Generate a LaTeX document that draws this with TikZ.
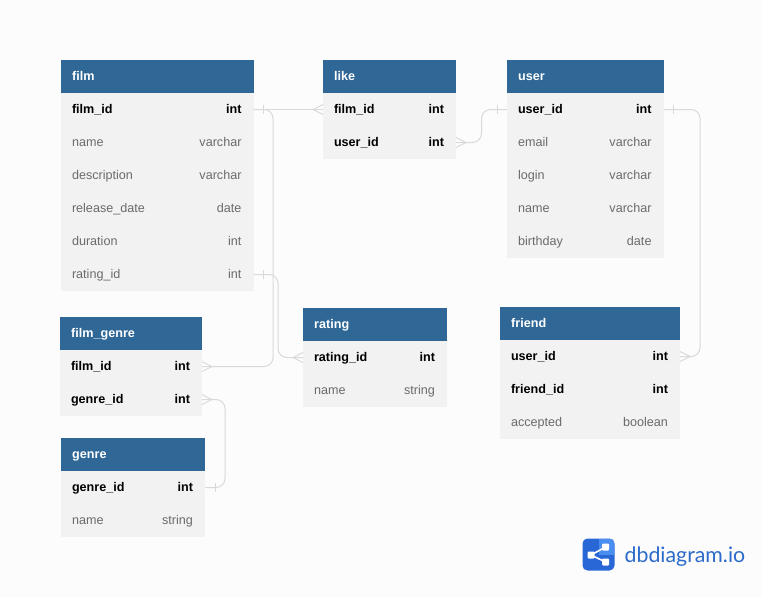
\documentclass[tikz,border=0pt]{standalone}
\usepackage{fontspec}
\setmainfont{Liberation Sans}
\newfontfamily\logofont{Lato}
\usetikzlibrary{calc}
\definecolor{pagebg}{HTML}{FCFCFC}
\definecolor{headblue}{HTML}{2F6797}
\definecolor{rowbg}{HTML}{F2F2F2}
\definecolor{mutedtxt}{HTML}{6B6B6B}
\definecolor{connline}{HTML}{D9D9D9}
\definecolor{logoblue}{HTML}{2A67D6}
\definecolor{logolight}{HTML}{4A8DF0}
\definecolor{logotxt}{HTML}{2C6BCB}
\tikzset{
  head/.style={fill=headblue,inner sep=0pt,outer sep=0pt,minimum height=33pt,anchor=north west},
  rowbox/.style={fill=rowbg,inner sep=0pt,outer sep=0pt,minimum height=33pt,anchor=north west},
  keytxt/.style={font=\fontsize{12.6}{14}\selectfont\bfseries,text=black,inner sep=0pt,outer sep=0pt},
  plaintxt/.style={font=\fontsize{12.6}{14}\selectfont,text=mutedtxt,inner sep=0pt,outer sep=0pt},
  conn/.style={draw=connline,line width=1pt,rounded corners=9pt},
  tipline/.style={draw=connline,line width=0.9pt},
}
% table header: name, x, y, width, title
\newcommand{\erhead}[5]{%
  \def\erw{#4}%
  \node[head,minimum width=#4pt] (#1) at (#2,#3) {};
  \node[font=\fontsize{12.6}{14}\selectfont\bfseries,text=white,inner sep=0pt,anchor=mid west] (#1-title) at ([xshift=11pt,yshift=-1.1pt]#1.west) {#5};
}
% row: name, previous node, left text, right text, text style
\newcommand{\errow}[5]{%
  \node[rowbox,minimum width=\erw pt] (#1) at (#2.south west) {};
  \node[#5,anchor=mid west] (#1-l) at ([xshift=11pt,yshift=-1.5pt]#1.west) {#3};
  \node[#5,anchor=mid east] (#1-r) at ([xshift=-12pt,yshift=-1.5pt]#1.east) {#4};
}
% one-bar tip at an anchor; direction +1 right, -1 left
\newcommand{\erone}[2]{%
  \draw[tipline] ([xshift=#2*10pt,yshift=4.5pt]#1) -- ([xshift=#2*10pt,yshift=-4.5pt]#1);
}
% crow-foot tip
\newcommand{\ercrow}[2]{%
  \draw[tipline] ([yshift=5pt]#1) -- ([xshift=#2*10pt]#1) -- ([yshift=-5pt]#1);
}
\begin{document}
\begin{tikzpicture}[x=1pt,y=-1pt]
\useasboundingbox (0,0) rectangle (762,597);
\fill[pagebg] (0,0) rectangle (762,597);

% bus coordinates for the connector routes
\coordinate (busfilm) at (273,0);
\coordinate (busrating) at (278,0);
\coordinate (buslike) at (481.5,0);
\coordinate (busfriend) at (700,0);
\coordinate (busgenre) at (225,0);

% film
\erhead{film}{61}{60}{192.5}{film}
\errow{fid}{film}{film\_id}{int}{keytxt}
\errow{fname}{fid}{name}{varchar}{plaintxt}
\errow{fdesc}{fname}{description}{varchar}{plaintxt}
\errow{frel}{fdesc}{release\_date}{date}{plaintxt}
\errow{fdur}{frel}{duration}{int}{plaintxt}
\errow{frat}{fdur}{rating\_id}{int}{plaintxt}

% like
\erhead{like}{323}{60}{133}{like}
\errow{lfid}{like}{film\_id}{int}{keytxt}
\errow{luid}{lfid}{user\_id}{int}{keytxt}

% user
\erhead{user}{507}{60}{156.5}{user}
\errow{uid}{user}{user\_id}{int}{keytxt}
\errow{umail}{uid}{email}{varchar}{plaintxt}
\errow{ulogin}{umail}{login}{varchar}{plaintxt}
\errow{uname}{ulogin}{name}{varchar}{plaintxt}
\errow{ubirth}{uname}{birthday}{date}{plaintxt}

% film_genre
\erhead{fg}{60}{317}{142}{film\_genre}
\errow{fgfid}{fg}{film\_id}{int}{keytxt}
\errow{fggid}{fgfid}{genre\_id}{int}{keytxt}

% rating
\erhead{rating}{303}{308}{144}{rating}
\errow{rid}{rating}{rating\_id}{int}{keytxt}
\errow{rname}{rid}{name}{string}{plaintxt}

% friend
\erhead{friend}{500}{307}{180}{friend}
\errow{fruid}{friend}{user\_id}{int}{keytxt}
\errow{frfid}{fruid}{friend\_id}{int}{keytxt}
\errow{fracc}{frfid}{accepted}{boolean}{plaintxt}

% genre
\erhead{genre}{61}{438}{144}{genre}
\errow{gid}{genre}{genre\_id}{int}{keytxt}
\errow{gname}{gid}{name}{string}{plaintxt}

% connectors
\draw[conn] (fid.east) -- (lfid.west);
\draw[conn] (fid.east) -- (fid.east -| busfilm) -- (fgfid.east -| busfilm) -- (fgfid.east);
\draw[conn] (frat.east) -- (frat.east -| busrating) -- (rid.west -| busrating) -- (rid.west);
\draw[conn] (luid.east) -- (luid.east -| buslike) -- (uid.west -| buslike) -- (uid.west);
\draw[conn] (uid.east) -- (uid.east -| busfriend) -- (fruid.east -| busfriend) -- (fruid.east);
\draw[conn] (fggid.east) -- (fggid.east -| busgenre) -- (gid.east -| busgenre) -- (gid.east);

% tips
\erone{fid.east}{1}
\ercrow{lfid.west}{-1}
\ercrow{fgfid.east}{1}
\erone{frat.east}{1}
\ercrow{rid.west}{-1}
\ercrow{luid.east}{1}
\erone{uid.west}{-1}
\erone{uid.east}{1}
\ercrow{fruid.east}{1}
\ercrow{fggid.east}{1}
\erone{gid.east}{1}

% logo
\fill[logoblue,rounded corners=5pt] (582.5,538.5) rectangle (614.5,570.5);
\begin{scope}
  \clip[rounded corners=5pt] (582.5,538.5) rectangle (614.5,570.5);
  \fill[logolight] (598.5,538.5) rectangle (614.5,555);
\end{scope}
\draw[white,line width=1.6pt] (605.5,547) -- (591,555) -- (605.5,562);
\fill[white,rounded corners=1pt] (602,543.5) rectangle (609,550.5);
\fill[white,rounded corners=1pt] (602,558.5) rectangle (609,565.5);
\fill[white,rounded corners=1pt] (587.5,551.5) rectangle (594.5,558.5);
\node[font=\logofont\fontsize{21.3}{24}\selectfont,text=logotxt,inner sep=0pt,anchor=mid west] (logotext) at (624.5,560) {dbdiagram.io};
\end{tikzpicture}
\end{document}
